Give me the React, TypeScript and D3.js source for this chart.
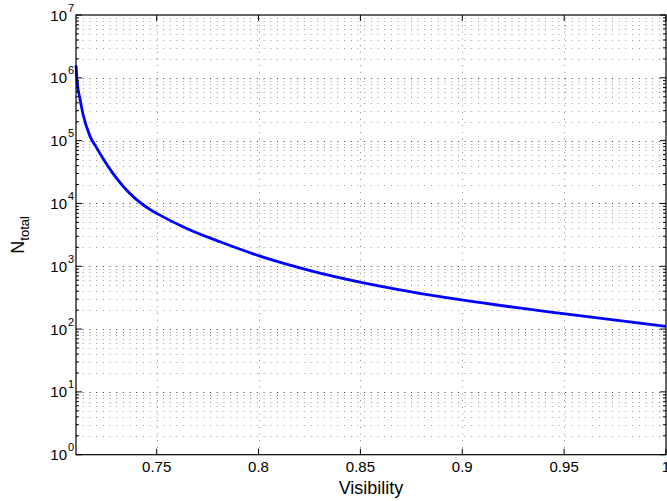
import * as d3 from "d3";

const visibility = [
  0.7104, 0.711, 0.7124, 0.714, 0.7173, 0.7206, 0.7238, 0.7287, 0.7336,
  0.7467, 0.75, 0.7647, 0.7811, 0.8007, 0.8253, 0.8498, 0.8743, 0.8997,
  0.925, 0.9495, 1.0,
];
const nTotal = [
  1.585e6, 8.5e5, 4.57e5, 2.51e5, 1.17e5, 7.6e4, 5.1e4, 2.95e4, 1.86e4,
  8.0e3, 6.95e3, 4.0e3, 2.45e3, 1.45e3, 855, 560, 395, 291, 223, 176, 110,
];
const xTicks = [0.75, 0.8, 0.85, 0.9, 0.95, 1];
const xTickLabels = ["0.75", "0.8", "0.85", "0.9", "0.95", "1"];
const yExponents = [0, 1, 2, 3, 4, 5, 6, 7];

const WIDTH = 667;
const HEIGHT = 501;
const margin = { top: 15, right: 1, bottom: 46.3, left: 76 };
const FONT = "'Liberation Sans', Arial, Helvetica, sans-serif";

export default function App() {
  const x = d3
    .scaleLinear()
    .domain([0.7104, 1])
    .range([margin.left, WIDTH - margin.right]);
  const y = d3
    .scaleLog()
    .domain([1, 1e7])
    .range([HEIGHT - margin.bottom, margin.top]);

  const points = visibility.map((v, i) => ({ v, n: nTotal[i] }));
  const line = d3
    .line<{ v: number; n: number }>()
    .x((d) => x(d.v))
    .y((d) => y(d.n))
    .curve(d3.curveMonotoneX);

  const minorY: number[] = [];
  yExponents.slice(0, -1).forEach((e) => {
    for (let k = 2; k <= 9; k++) minorY.push(k * Math.pow(10, e));
  });

  const x0 = margin.left;
  const x1 = WIDTH - margin.right;
  const y0 = HEIGHT - margin.bottom;
  const y1 = margin.top;
  const snap = (v: number) => Math.round(v) + 0.5;

  return (
    <svg
      width={WIDTH}
      height={HEIGHT}
      style={{ position: "absolute", left: 0, top: 0, background: "#fff" }}
      fontFamily={FONT}
    >
      {/* minor y grid */}
      <g stroke="#9a9a9a" strokeWidth={1} strokeDasharray="1 5.7">
        {minorY.map((v) => (
          <line key={v} x1={x0} x2={x1} y1={snap(y(v))} y2={snap(y(v))} />
        ))}
      </g>
      {/* major y grid */}
      <g stroke="#333" strokeWidth={1} strokeDasharray="1 5.7">
        {yExponents.slice(1, -1).map((e) => (
          <line
            key={e}
            x1={x0}
            x2={x1}
            y1={snap(y(Math.pow(10, e)))}
            y2={snap(y(Math.pow(10, e)))}
          />
        ))}
      </g>
      {/* x grid */}
      <g stroke="#888" strokeWidth={1} strokeDasharray="1 5.7">
        {xTicks.slice(0, -1).map((t) => (
          <line key={t} x1={snap(x(t))} x2={snap(x(t))} y1={y0} y2={y1} />
        ))}
      </g>

      <path d={line(points) ?? ""} fill="none" stroke="#0000ff" strokeWidth={2.8} />

      {/* ticks */}
      <g stroke="#000" strokeWidth={1}>
        {xTicks.map((t) => (
          <g key={t}>
            <line x1={x(t)} x2={x(t)} y1={y0} y2={y0 - 6} />
            <line x1={x(t)} x2={x(t)} y1={y1} y2={y1 + 6} />
          </g>
        ))}
        {yExponents.map((e) => (
          <g key={e}>
            <line x1={x0} x2={x0 + 6} y1={y(Math.pow(10, e))} y2={y(Math.pow(10, e))} />
            <line x1={x1} x2={x1 - 6} y1={y(Math.pow(10, e))} y2={y(Math.pow(10, e))} />
          </g>
        ))}
        {minorY.map((v) => (
          <g key={v}>
            <line x1={x0} x2={x0 + 3} y1={y(v)} y2={y(v)} />
            <line x1={x1} x2={x1 - 3} y1={y(v)} y2={y(v)} />
          </g>
        ))}
      </g>

      {/* frame */}
      <rect x={x0} y={y1} width={x1 - x0} height={y0 - y1} fill="none" stroke="#000" strokeWidth={1.2} />

      {/* x tick labels */}
      <g fontSize={15} textAnchor="middle" fill="#000">
        {xTicks.map((t, i) => (
          <text key={t} x={x(t)} y={y0 + 17}>
            {xTickLabels[i]}
          </text>
        ))}
      </g>

      {/* y tick labels */}
      <g fill="#000">
        {yExponents.map((e) => (
          <g key={e}>
            <text x={67} y={y(Math.pow(10, e)) + 5.5} fontSize={15} textAnchor="end">
              10
            </text>
            <text x={68} y={y(Math.pow(10, e)) - 3.5} fontSize={11}>
              {e}
            </text>
          </g>
        ))}
      </g>

      <text x={(x0 + x1) / 2} y={494} fontSize={18} textAnchor="middle" fill="#000">
        Visibility
      </text>

      <text transform={`translate(23.5,${(y0 + y1) / 2}) rotate(-90)`} fontSize={18} textAnchor="middle" fill="#000">
        N
        <tspan fontSize={13} dy={5.5}>
          total
        </tspan>
      </text>
    </svg>
  );
}
